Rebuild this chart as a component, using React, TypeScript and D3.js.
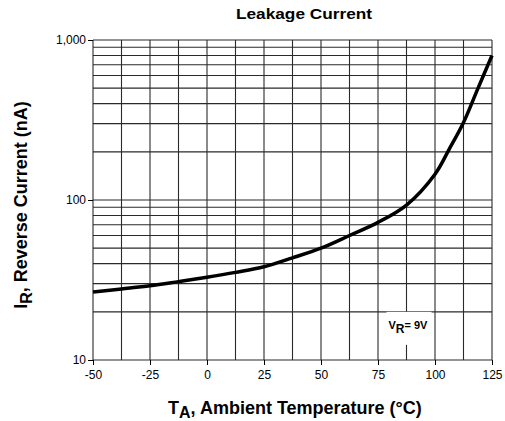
import * as d3 from 'd3';
import * as React from 'react';

const { useRef, useEffect } = React;

const width = 505;
const height = 421;
const margin = { top: 40, right: 13, bottom: 61, left: 93 };

const temps = [-50, -37.5, -25, -12.5, 0, 12.5, 25, 37.5, 50, 62.5, 75, 87.5, 100, 106.25, 112.5, 118.75, 125];
const current = [26.6, 27.8, 29.1, 30.9, 32.9, 35.3, 38.3, 43.5, 50, 60, 72.5, 93, 145, 208, 305, 495, 800];

const xTicks = [-50, -25, 0, 25, 50, 75, 100, 125];
const xGrid = d3.range(-50, 125.1, 12.5);
const yTicks = [10, 100, 1000];
const yGrid = [10, 20, 30, 40, 50, 60, 70, 80, 90, 100, 200, 300, 400, 500, 600, 700, 800, 900, 1000];

const font = "'Liberation Sans', Arial, Helvetica, sans-serif";

export default () => {
  const rootRef = useRef<SVGSVGElement>(null);

  useEffect(() => {
    const svgEl = rootRef.current;
    if (!svgEl) return;
    const svg = d3.select(svgEl);
    svg.selectAll('*').remove();

    const x = d3
      .scaleLinear()
      .domain([-50, 125])
      .range([margin.left, width - margin.right]);

    const y = d3
      .scaleLog()
      .domain([10, 1000])
      .range([height - margin.bottom, margin.top]);

    const grid = svg.append('g').attr('stroke', '#2a2a2a').attr('stroke-width', 1.1);

    grid
      .selectAll('line.v')
      .data(xGrid)
      .join('line')
      .attr('class', 'v')
      .attr('x1', d => x(d))
      .attr('x2', d => x(d))
      .attr('y1', y(1000))
      .attr('y2', y(10));

    grid
      .selectAll('line.h')
      .data(yGrid)
      .join('line')
      .attr('class', 'h')
      .attr('x1', x(-50))
      .attr('x2', x(125))
      .attr('y1', d => y(d))
      .attr('y2', d => y(d));

    // axis ticks
    svg
      .append('g')
      .attr('transform', `translate(0,${y(10)})`)
      .call(d3.axisBottom(x).tickValues(xTicks).tickSize(5).tickFormat(d => String(d)))
      .call(g => g.select('.domain').remove())
      .call(g => g.selectAll('line').attr('stroke', '#000'))
      .call(g =>
        g
          .selectAll('text')
          .attr('font-family', font)
          .attr('font-size', 12)
          .attr('fill', '#000')
          .attr('dy', '0.95em'),
      );

    svg
      .append('g')
      .attr('transform', `translate(${x(-50)},0)`)
      .call(d3.axisLeft(y).tickValues(yTicks).tickSize(5).tickFormat(d3.format(',')))
      .call(g => g.select('.domain').remove())
      .call(g => g.selectAll('line').attr('stroke', '#000'))
      .call(g =>
        g
          .selectAll('text')
          .attr('font-family', font)
          .attr('font-size', 12)
          .attr('fill', '#000')
          .attr('x', -7),
      );

    // the curve
    const line = d3
      .line<number>()
      .x((d, i) => x(temps[i]))
      .y(d => y(d))
      .curve(d3.curveCatmullRom.alpha(0.5));

    svg
      .append('path')
      .datum(current)
      .attr('fill', 'none')
      .attr('stroke', '#000')
      .attr('stroke-width', 3.5)
      .attr('d', line);

    // VR label box
    const bx = x(87.5);
    const by = y(20);
    svg
      .append('rect')
      .attr('x', bx - 20)
      .attr('y', by)
      .attr('width', 45)
      .attr('height', 33)
      .attr('fill', '#fff');
    const vr = svg
      .append('text')
      .attr('x', bx - 18)
      .attr('y', by + 17)
      .attr('font-family', font)
      .attr('font-weight', 'bold')
      .attr('font-size', 11)
      .attr('fill', '#000');
    vr.append('tspan').text('V');
    vr.append('tspan').attr('dy', 4).attr('font-size', 12).text('R');
    vr.append('tspan').attr('dy', -4).text('= 9V');

    // titles
    svg
      .append('text')
      .attr('x', 304)
      .attr('y', 19)
      .attr('text-anchor', 'middle')
      .attr('font-family', font)
      .attr('font-weight', 'bold')
      .attr('font-size', 14)
      .attr('textLength', 136)
      .attr('lengthAdjust', 'spacingAndGlyphs')
      .attr('fill', '#000')
      .text('Leakage Current');

    const xt = svg
      .append('text')
      .attr('x', 168)
      .attr('y', 414)
      .attr('font-family', font)
      .attr('font-weight', 'bold')
      .attr('font-size', 18)
      .attr('fill', '#000');
    xt.append('tspan').text('T');
    xt.append('tspan').attr('dy', 4).attr('font-size', 16).text('A');
    xt.append('tspan').attr('dy', -4).text(', Ambient Temperature (°C)');

    const yt = svg
      .append('text')
      .attr('transform', `translate(27,${(margin.top + height - margin.bottom) / 2 + 5}) rotate(-90)`)
      .attr('text-anchor', 'middle')
      .attr('font-family', font)
      .attr('font-weight', 'bold')
      .attr('font-size', 18)
      .attr('fill', '#000');
    yt.append('tspan').text('I');
    yt.append('tspan').attr('dy', 5).attr('font-size', 16).text('R');
    yt.append('tspan').attr('dy', -5).text(', Reverse Current (nA)');
  }, []);

  return (
    <svg
      ref={rootRef}
      width={width}
      height={height}
      viewBox={`0 0 ${width} ${height}`}
      style={{ position: 'absolute', left: 0, top: 0, background: '#fff' }}
    />
  );
};
